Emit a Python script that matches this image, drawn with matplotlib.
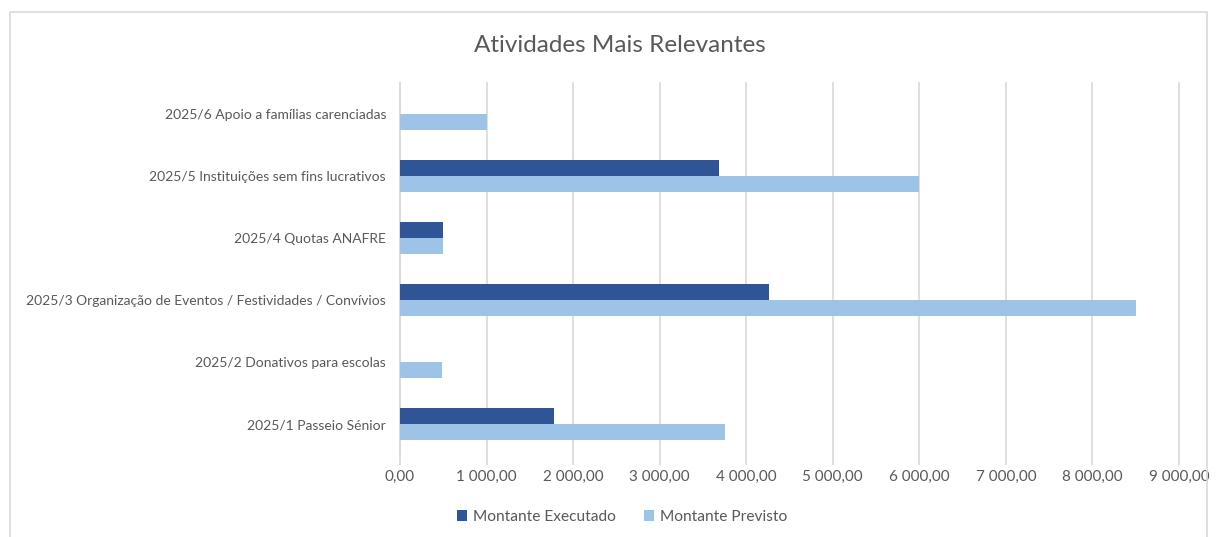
import matplotlib.pyplot as plt
import numpy as np
from matplotlib.patches import Rectangle
from matplotlib.ticker import FuncFormatter

plt.rcParams['font.family'] = ['Lato', 'DejaVu Sans']

categorias = [
    "2025/1 Passeio Sénior",
    "2025/2 Donativos para escolas",
    "2025/3 Organização de Eventos / Festividades / Convívios",
    "2025/4 Quotas ANAFRE",
    "2025/5 Instituições sem fins lucrativos",
    "2025/6 Apoio a famílias carenciadas",
]
executado = [1780, 0, 4265, 500, 3690, 0]
previsto = [3750, 490, 8500, 500, 6000, 1000]

cor_exec = "#2F5597"
cor_prev = "#9DC3E6"
cinza = "#595959"

W, H = 1217, 537
fig = plt.figure(figsize=(W / 100, H / 100), dpi=100)
# chart border (bottom edge is cut off in the reference)
fig.patches.append(Rectangle((10 / W, -0.05), 1197 / W, 1.05 - 12 / H, transform=fig.transFigure,
                             fill=False, edgecolor="#D9D9D9", linewidth=1.2))

ax = fig.add_axes([400 / W, 1 - 455 / H, (1179 - 400) / W, (455 - 83) / H])

y = np.arange(len(categorias))
h = 0.258
ax.barh(y + h / 2, executado, height=h, color=cor_exec, label="Montante Executado", zorder=3)
ax.barh(y - h / 2, previsto, height=h, color=cor_prev, label="Montante Previsto", zorder=3)

ax.set_xlim(0, 9000)
ax.set_ylim(-0.5, len(categorias) - 0.5)
ax.set_xticks(np.arange(0, 9001, 1000))
ax.xaxis.set_major_formatter(FuncFormatter(lambda v, p: f"{v:,.2f}".replace(",", " ").replace(".", ",")))
ax.set_yticks(y)
ax.set_yticklabels(categorias)
ax.grid(axis="x", color="#D9D9D9", linewidth=1.2, zorder=0)
for line in ax.get_xgridlines():
    line.set_clip_on(False)
for s in ["top", "right", "bottom"]:
    ax.spines[s].set_visible(False)
ax.spines["left"].set_color("#D9D9D9")
ax.spines["left"].set_linewidth(1.2)
ax.tick_params(axis="y", length=0, pad=10, labelsize=10, labelcolor=cinza)
ax.tick_params(axis="x", length=7, color="#D9D9D9", width=1.2, pad=4, labelsize=11, labelcolor=cinza)
for t in ax.xaxis.get_major_ticks():
    t.tick1line.set_clip_on(False)

fig.text(620 / W, 1 - 45 / H, "Atividades Mais Relevantes", ha="center", va="center",
         fontsize=17.5, color=cinza)
fig.legend(loc="center", bbox_to_anchor=(622 / W, 1 - 517 / H), ncol=2, frameon=False,
           fontsize=11.2, labelcolor=cinza, handlelength=0.65, handleheight=0.65,
           handletextpad=0.4, columnspacing=1.8)

fig.savefig("out.png", dpi=100)
